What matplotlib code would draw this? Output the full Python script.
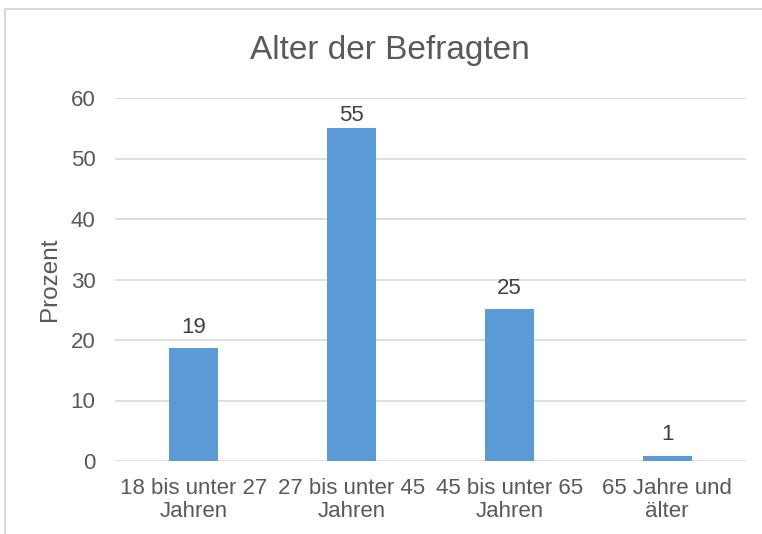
import matplotlib
matplotlib.use("Agg")
import matplotlib.pyplot as plt
from matplotlib.lines import Line2D

categories = ["18 bis unter 27\nJahren", "27 bis unter 45\nJahren", "45 bis unter 65\nJahren", "65 Jahre und\nälter"]
values = [18.7, 55.0, 25.1, 0.9]
yticks = [0, 10, 20, 30, 40, 50, 60]

plt.rcParams['font.family'] = ['Liberation Sans', 'DejaVu Sans']
txt = '#595959'
fig = plt.figure(figsize=(7.62, 5.34), dpi=100)
ax = fig.add_axes([115/762, 1-461/534, (746-115)/762, (461-98)/534])

x = list(range(len(categories)))
bars = ax.bar(x, values, width=0.31, color='#5B9BD5', zorder=3)
ymax = 60
for xi, v in zip(x, values):
    # label baseline sits a little above the bar, kept inside the plot area
    ty = min(v + 2.5, ymax - 3.8)
    ax.text(xi, ty, f"{round(v)}", ha='center', va='baseline', fontsize=16, color='#404040')

ax.set_xlim(-0.5, len(categories) - 0.5)
ax.set_ylim(0, ymax)
ax.set_yticks(yticks)
ax.set_xticks(x)
ax.set_xticklabels(categories, fontsize=16, color=txt, linespacing=1.15)
ax.tick_params(axis='y', labelsize=16, labelcolor=txt, length=0, pad=14)
ax.tick_params(axis='x', length=0, pad=12)
ax.grid(axis='y', color='#D9D9D9', linewidth=1.2, zorder=0)
for s in ax.spines.values():
    s.set_visible(False)
ax.set_ylabel("Prozent", fontsize=17.5, color=txt, labelpad=7)
fig.text(390/762, 1-51/534, "Alter der Befragten", ha='center', va='center', fontsize=24, color=txt)

# chart border (left and top edges visible)
fig.add_artist(Line2D([5/762, 5/762], [0, 1-9/534], transform=fig.transFigure, color='#D9D9D9', lw=1.5))
fig.add_artist(Line2D([5/762, 1], [1-9/534, 1-9/534], transform=fig.transFigure, color='#D9D9D9', lw=1.5))

fig.savefig("out.png", dpi=100)
